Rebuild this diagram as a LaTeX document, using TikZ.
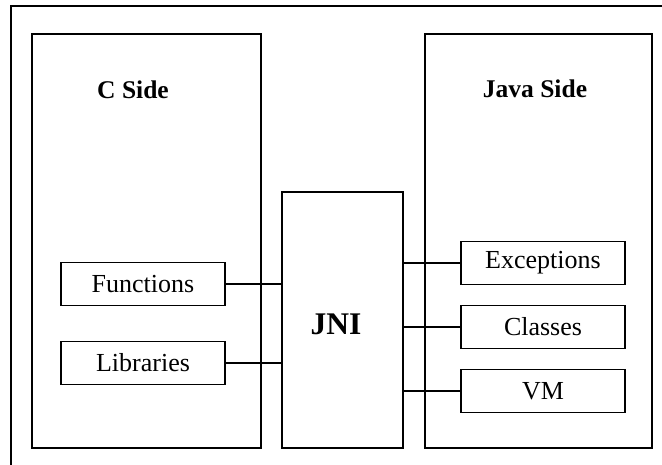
\documentclass[tikz,border=0pt]{standalone}
\usepackage{fontspec}
\setmainfont{Liberation Serif}
\begin{document}
\begin{tikzpicture}[x=1pt,y=-1pt,line width=1.3pt,
  side/.style={draw,inner sep=0pt,minimum width=#1,minimum height=414pt},
  item/.style={draw,inner sep=0pt,minimum width=164pt,minimum height=42.5pt,
    font=\fontsize{26}{30}\selectfont},
  heading/.style={anchor=base,font=\fontsize{25.5}{30}\selectfont\bfseries},
  link/.style={draw,line width=1.3pt}]
\useasboundingbox (0,0) rectangle (662,465);
% page corner
\draw (11,465) -- (11,6) -- (662,6);
% the two sides and the bridge between them
\node[side=229pt] (cside) at (146.5,241) {};
\node[side=227pt] (jside) at (538.5,241) {};
\node[draw,inner sep=0pt,minimum width=121pt,minimum height=256pt] (jni) at (342.5,320) {};
\node[heading] (clabel) at (133,99) {C Side};
\node[heading] (jlabel) at (535,98) {Java Side};
\node[anchor=base,font=\fontsize{31.5}{36}\selectfont\bfseries] (jnilabel) at (336,335) {JNI};
% C side items
\node[item] (func) at (143,284) {Functions};
\node[item] (libs) at (143,363) {Libraries};
% Java side items
\node[item] (exc) at (543,263) {Exceptions};
\node[item] (cls) at (543,327) {Classes};
\node[item] (vm) at (543,391) {VM};
% connectors
\draw[link] (func.east) -- (func.east -| jni.west);
\draw[link] (libs.east) -- (libs.east -| jni.west);
\draw[link] (exc.west) -- (exc.west -| jni.east);
\draw[link] (cls.west) -- (cls.west -| jni.east);
\draw[link] (vm.west) -- (vm.west -| jni.east);
\end{tikzpicture}
\end{document}
